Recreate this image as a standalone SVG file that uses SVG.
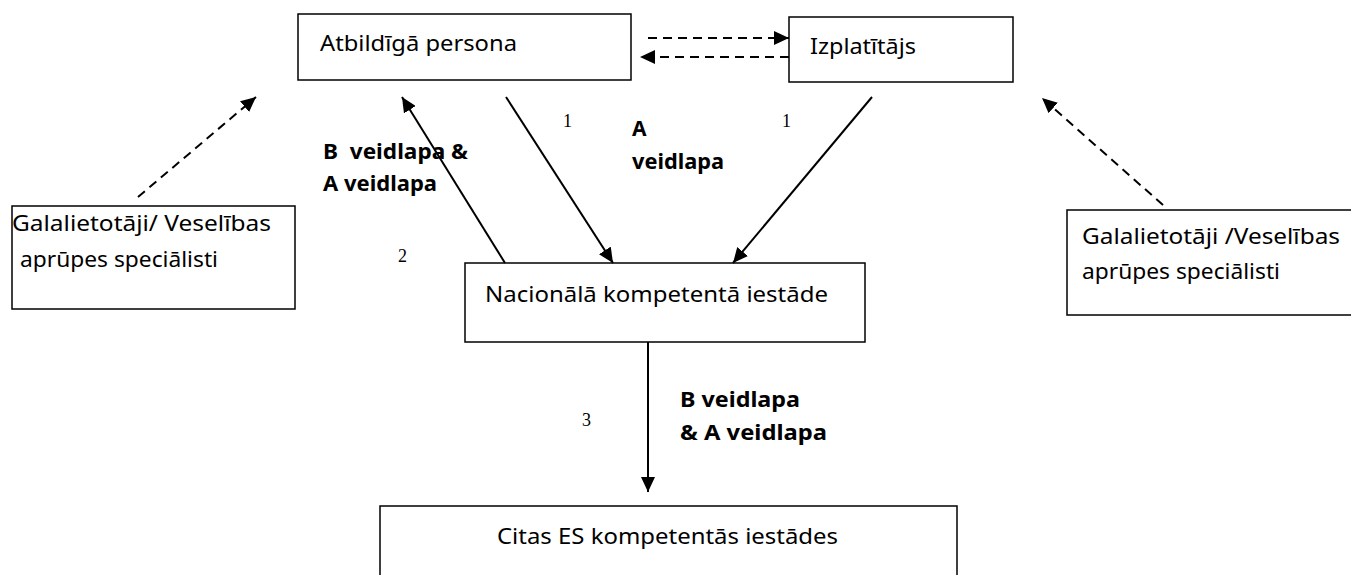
<svg xmlns="http://www.w3.org/2000/svg" width="1351" height="575" viewBox="0 0 1351 575">
<style>
.box{fill:#fff;stroke:#000;stroke-width:1.5}
.t{font-family:"Noto Sans","Open Sans",sans-serif;font-size:22px;fill:#000}
.b{font-family:"Noto Sans","Open Sans",sans-serif;font-size:21px;font-weight:bold;fill:#000}
.n{font-family:"Liberation Serif",serif;font-size:18px;fill:#000}
.ln{stroke:#000;stroke-width:2;fill:none}
.dash{stroke:#000;stroke-width:2;fill:none;stroke-dasharray:9 6}
</style>
<defs>
<marker id="ah" markerUnits="userSpaceOnUse" markerWidth="16" markerHeight="14" refX="15" refY="7" orient="auto">
<path d="M0,0 L15,7 L0,14 Z" fill="#000"/>
</marker>
</defs>
<rect x="0" y="0" width="1351" height="575" fill="#fff"/>
<g id="atbildiga">
<rect class="box" x="298" y="14" width="333" height="66"/>
<text class="t" x="320" y="51" textLength="197" lengthAdjust="spacingAndGlyphs">Atbildīgā persona</text>
</g>
<g id="izplatitajs">
<rect class="box" x="789" y="17" width="224" height="65"/>
<text class="t" x="810" y="54" textLength="106" lengthAdjust="spacingAndGlyphs">Izplatītājs</text>
</g>
<g id="galalietotaji-left">
<rect class="box" x="12" y="206" width="283" height="103"/>
<text class="t" x="12" y="231" textLength="259" lengthAdjust="spacingAndGlyphs">Galalietotāji/ Veselības</text>
<text class="t" x="20" y="267" textLength="198" lengthAdjust="spacingAndGlyphs">aprūpes speciālisti</text>
</g>
<g id="galalietotaji-right">
<rect class="box" x="1067" y="210" width="300" height="105"/>
<text class="t" x="1082" y="244" textLength="258" lengthAdjust="spacingAndGlyphs">Galalietotāji /Veselības</text>
<text class="t" x="1082" y="279" textLength="198" lengthAdjust="spacingAndGlyphs">aprūpes speciālisti</text>
</g>
<g id="nacionala">
<rect class="box" x="465" y="263" width="400" height="79"/>
<text class="t" x="485" y="302" textLength="343" lengthAdjust="spacingAndGlyphs">Nacionālā kompetentā iestāde</text>
</g>
<g id="citas">
<rect class="box" x="380" y="506" width="577" height="90"/>
<text class="t" x="497" y="544" textLength="341" lengthAdjust="spacingAndGlyphs">Citas ES kompetentās iestādes</text>
</g>
<g id="connectors">
<line class="dash" x1="648" y1="38" x2="789" y2="38" marker-end="url(#ah)"/>
<line class="dash" x1="789" y1="57" x2="640" y2="57" marker-end="url(#ah)"/>
<line class="dash" x1="138" y1="197" x2="256" y2="97" marker-end="url(#ah)"/>
<line class="dash" x1="1163" y1="205" x2="1042" y2="98" marker-end="url(#ah)"/>
<line class="ln" x1="505" y1="263" x2="402" y2="97" marker-end="url(#ah)"/>
<line class="ln" x1="506" y1="97" x2="613" y2="263" marker-end="url(#ah)"/>
<line class="ln" x1="872" y1="97" x2="733" y2="263" marker-end="url(#ah)"/>
<line class="ln" x1="648" y1="342" x2="648" y2="492" marker-end="url(#ah)"/>
</g>
<g id="labels">
<text class="n" x="563" y="127">1</text>
<text class="n" x="782" y="127">1</text>
<text class="b" x="632" y="136">A</text>
<text class="b" x="632" y="169" textLength="92" lengthAdjust="spacingAndGlyphs">veidlapa</text>
<text class="b" x="323" y="159" textLength="145" lengthAdjust="spacingAndGlyphs" xml:space="preserve">B  veidlapa &amp;</text>
<text class="b" x="323" y="191" textLength="114" lengthAdjust="spacingAndGlyphs">A veidlapa</text>
<text class="n" x="398" y="262">2</text>
<text class="n" x="582" y="426">3</text>
<text class="b" x="680" y="407" textLength="120" lengthAdjust="spacingAndGlyphs">B veidlapa</text>
<text class="b" x="680" y="440" textLength="147" lengthAdjust="spacingAndGlyphs">&amp; A veidlapa</text>
</g>
</svg>
